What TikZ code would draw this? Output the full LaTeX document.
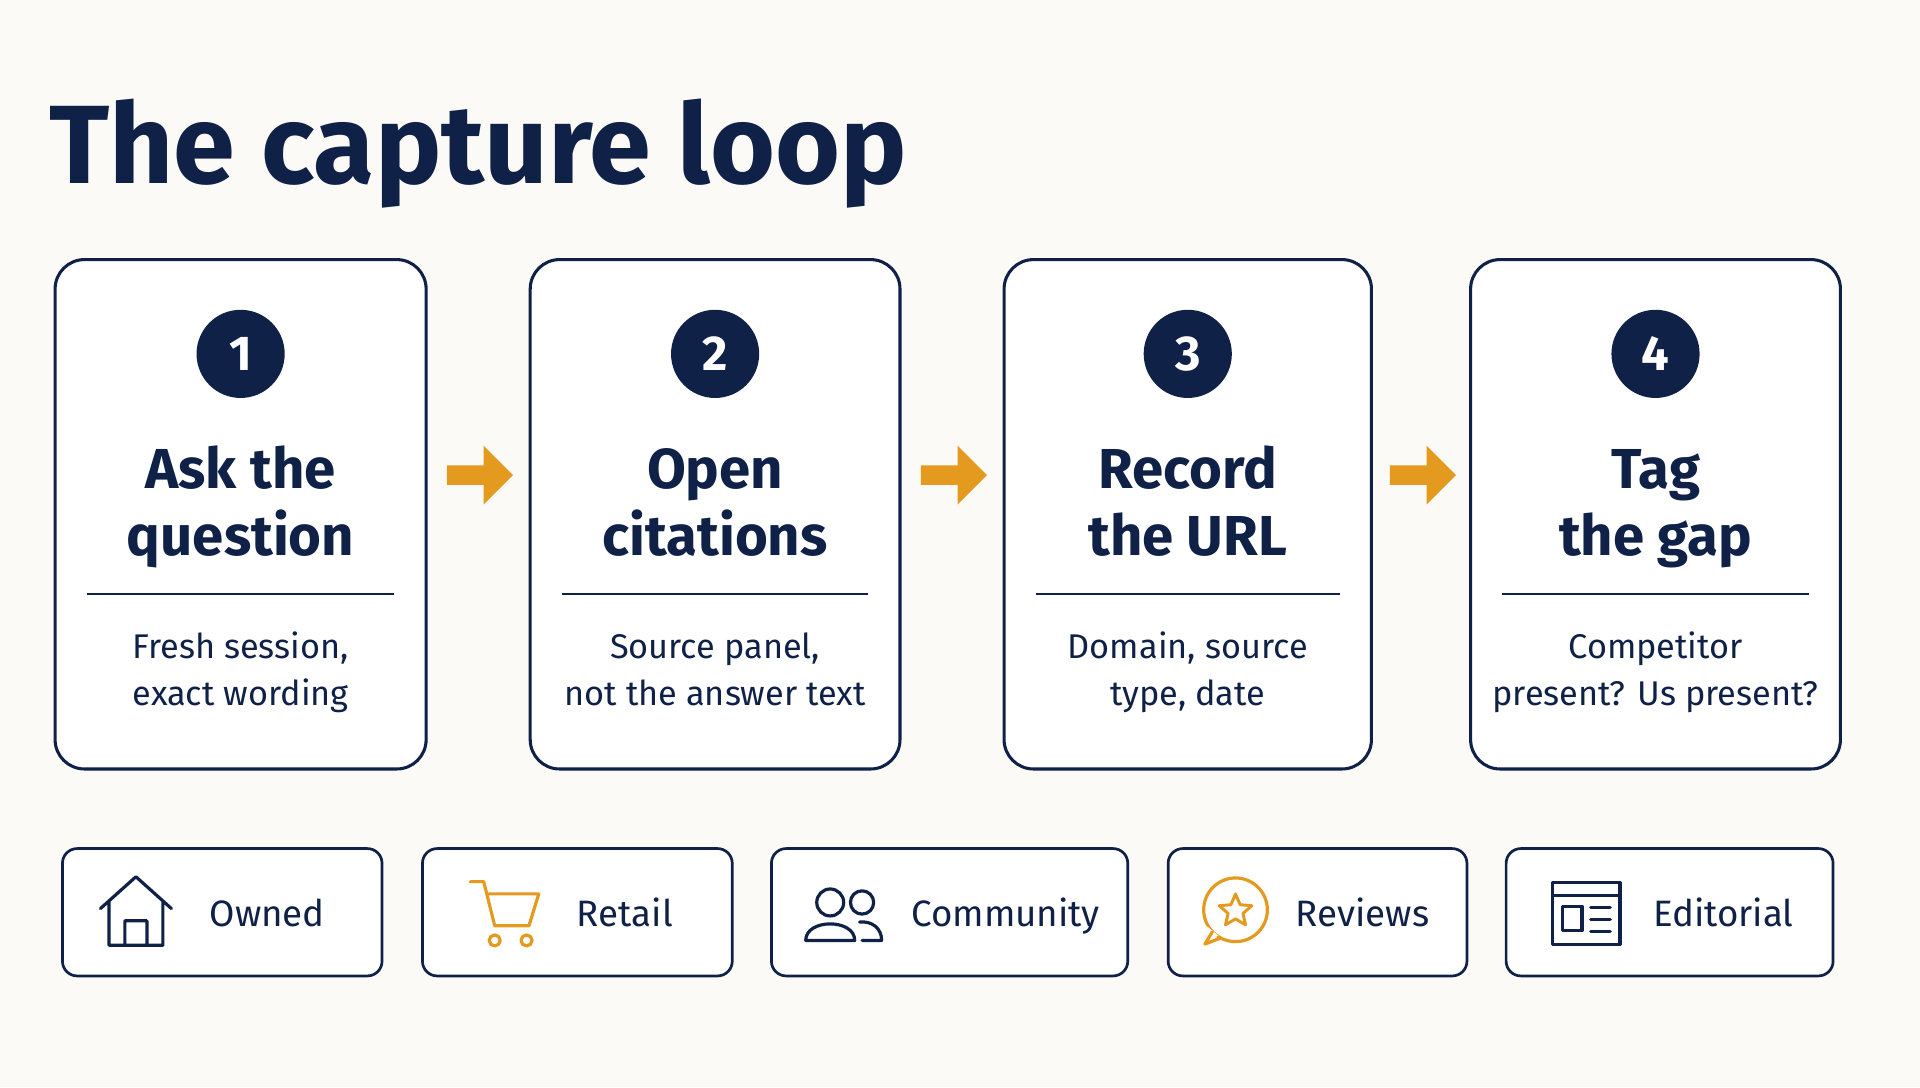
\documentclass[tikz,border=0pt]{standalone}
\usepackage{fontspec}
\setmainfont{Fira Sans}
\usetikzlibrary{shapes.geometric}
\definecolor{navy}{HTML}{0F2147}
\definecolor{org}{HTML}{E39A1E}
\definecolor{bg}{HTML}{FBFAF7}
\begin{document}
\begin{tikzpicture}[x=1pt,y=-1pt,
 card/.style={draw=navy,line width=2.5pt,rounded corners=24pt,fill=white},
 tag/.style={draw=navy,line width=2.2pt,rounded corners=12pt,fill=white},
 num/.style={circle,fill=navy,minimum size=72pt,inner sep=0pt,text=white,font=\fontsize{40}{40}\selectfont\bfseries},
 head/.style={text=navy,font=\fontsize{46}{54}\selectfont\bfseries,anchor=base,inner sep=0pt},
 sub/.style={text=navy,font=\fontsize{28}{38}\selectfont,anchor=base,inner sep=0pt},
 lab/.style={text=navy,font=\fontsize{30}{30}\selectfont,anchor=base west,inner sep=0pt},
 arr/.style={fill=org,draw=none},
 ic/.style={draw=navy,line width=2.6pt,line join=round,line cap=round},
 ico/.style={draw=org,line width=2.6pt,line join=round,line cap=round}]
\fill[bg] (0,0) rectangle (1568,888);
\useasboundingbox (0,0) rectangle (1568,888);
\node[anchor=base west,inner sep=0pt,text=navy,font=\fontsize{91}{91}\selectfont\bfseries] (title) at (40,150) {The capture loop};
\foreach \i/\x/\w/\a/\b/\c/\d in {1/45/303/{Ask the}/{question}/{Fresh session,}/{exact wording},
 2/433/302/{Open}/{citations}/{Source panel,}/{not the answer text},
 3/820/300/{Record}/{the URL}/{Domain, source}/{type, date},
 4/1201/302/{Tag}/{the gap}/{Competitor}/{present? Us present?}}{
 \pgfmathsetmacro\cx{\x+\w/2}
 \draw[card] (\x,212) rectangle ++(\w,416);
 \node[num] (n\i) at (\cx,289) {\i};
 \node[head] (ha\i) at (\cx,399) {\a};
 \node[head] (hb\i) at (\cx,454) {\b};
 \draw[navy,line width=1.5pt] (\x+26,485) -- (\x+\w-26,485);
 \node[sub] (sa\i) at (\cx,538) {\c};
 \node[sub] (sb\i) at (\cx,576) {\d};
}
\foreach \x in {365,752,1135}{
 \fill[arr] (\x,380) -- (\x+30,380) -- (\x+30,364) -- (\x+54,388) -- (\x+30,412) -- (\x+30,396) -- (\x,396) -- cycle;
}
% tags
\draw[tag] (51,693) rectangle (312,797);
\draw[tag] (345,693) rectangle (598,797);
\draw[tag] (630,693) rectangle (921,797);
\draw[tag] (954,693) rectangle (1198,797);
\draw[tag] (1230,693) rectangle (1497,797);
\node[lab] (l1) at (171,757) {Owned};
\node[lab] (l2) at (471,757) {Retail};
\node[lab] (l3) at (744,757) {Community};
\node[lab] (l4) at (1058,757) {Reviews};
\node[lab] (l5) at (1350,757) {Editorial};
% house
\draw[ic] (82,742) -- (111,716) -- (140,742) (89,736) -- (89,772) -- (133,772) -- (133,736) (102,772) -- (102,752) -- (120,752) -- (120,772);
% cart
\draw[ico] (384,720) -- (395,720) -- (404,756) -- (432,756) -- (440,730) -- (398,730);
\draw[ico] (404,768) circle (4.5) (430,768) circle (4.5);
% community
\draw[ic] (678,737) circle (11) (704,737) circle (9.5);
\draw[ic] (658,768) .. controls (658,750) and (698,750) .. (698,768) -- cycle;
\draw[ic] (702,753) .. controls (712,752) and (720,758) .. (720,768) -- (704,768);
% reviews
\draw[ico] (1009,743) circle (26);
\fill[bg,draw=none] (985,756) -- (983,771) -- (995,764);
\draw[ico] (990,761) -- (984,771) -- (997,766);
\node[star,star points=5,star point ratio=2.2,draw=org,line width=2.4pt,line join=round,minimum size=28pt,inner sep=0pt] (st) at (1009,744) {};
% editorial
\draw[ic] (1268,721) rectangle (1323,771);
\draw[ic] (1268,731) -- (1323,731);
\draw[ic] (1276,740) rectangle (1292,760);
\draw[ic] (1299,741) -- (1315,741) (1299,751) -- (1315,751) (1299,761) -- (1315,761);
\end{tikzpicture}
\end{document}
